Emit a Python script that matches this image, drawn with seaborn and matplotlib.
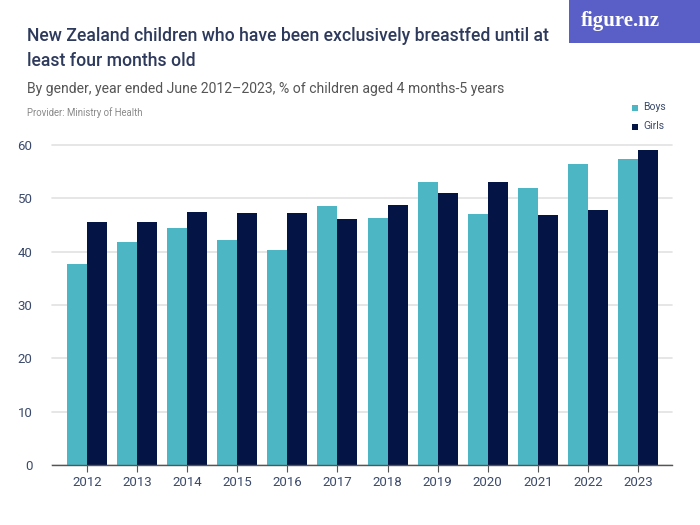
import matplotlib
matplotlib.use("Agg")
import matplotlib.pyplot as plt
from matplotlib.patches import Rectangle
import seaborn as sns
import pandas as pd

years = ["2012", "2013", "2014", "2015", "2016", "2017", "2018", "2019", "2020", "2021", "2022", "2023"]
boys = [37.7, 41.8, 44.5, 42.1, 40.4, 48.6, 46.3, 53.1, 47.1, 51.9, 56.5, 57.4]
girls = [45.6, 45.6, 47.5, 47.3, 47.3, 46.1, 48.8, 51.0, 53.1, 46.9, 47.8, 59.0]
series = ["Boys", "Girls"]
colors = ["#4db6c4", "#041545"]

df = pd.DataFrame({
    "year": years * 2,
    "value": boys + girls,
    "gender": ["Boys"] * len(years) + ["Girls"] * len(years),
})

sns.set_theme(style="white")
plt.rcParams["font.family"] = ["Roboto", "DejaVu Sans"]

fig = plt.figure(figsize=(7, 5.25), dpi=100)
ax = fig.add_axes([52 / 700, 1 - 465 / 525, 620 / 700, 320 / 525])

sns.barplot(data=df, x="year", y="value", hue="gender", order=years,
            hue_order=series, palette=colors, width=0.8, saturation=1,
            ax=ax, legend=False, linewidth=0)

ax.set_xlim(-0.7, 11.68)
ax.set_ylim(0, 60)
ax.set_yticks([0, 10, 20, 30, 40, 50, 60])
ax.yaxis.grid(True, color="#e2e2e2", linewidth=1.2)
ax.set_axisbelow(True)
for g in ax.get_ygridlines():
    g.set_clip_on(False)
for s in ["top", "right", "left"]:
    ax.spines[s].set_visible(False)
ax.spines["bottom"].set_color("#555555")
ax.spines["bottom"].set_linewidth(1.0)
ax.set_xlabel("")
ax.set_ylabel("")
ax.tick_params(axis="x", bottom=True, length=5, width=0.8, color="#555555",
               labelsize=9.5, labelcolor="#3b4a6b", pad=3)
ax.tick_params(axis="y", left=False, labelsize=9.5, labelcolor="#3b4a6b", pad=8)

# Header texts
fig.text(27 / 700, 1 - 41 / 525, "New Zealand children who have been exclusively breastfed until at",
         fontsize=12.7, color="#2e3a5c", va="baseline", ha="left", weight="medium")
fig.text(27 / 700, 1 - 66 / 525, "least four months old",
         fontsize=12.7, color="#2e3a5c", va="baseline", ha="left", weight="medium")
fig.text(27 / 700, 1 - 93 / 525, "By gender, year ended June 2012\u20132023, % of children aged 4 months-5 years",
         fontsize=10.1, color="#555555", va="baseline", ha="left")
fig.text(27 / 700, 1 - 116 / 525, "Provider: Ministry of Health",
         fontsize=6.9, color="#8a8a8a", va="baseline", ha="left")

# Logo
fig.patches.append(Rectangle((569 / 700, 1 - 43 / 525), 131 / 700, 43 / 525,
                             transform=fig.transFigure, facecolor="#5a5fc8",
                             edgecolor="none", zorder=0))
fig.text(620 / 700, 1 - 21 / 525, "figure.nz", fontsize=15, color="white",
         ha="center", va="center", family=["Liberation Serif", "DejaVu Serif"], weight="bold")

# Legend
for i, (lab, c) in enumerate(zip(series, colors)):
    y = 107 + i * 19
    fig.patches.append(Rectangle((632 / 700, 1 - (y + 4) / 525), 6 / 700, 6 / 525,
                                 transform=fig.transFigure, facecolor=c, edgecolor="none"))
    fig.text(643 / 700, 1 - y / 525, lab, fontsize=7.5, color="#3b4a6b",
             ha="left", va="center")

fig.savefig("out.png", dpi=100)
